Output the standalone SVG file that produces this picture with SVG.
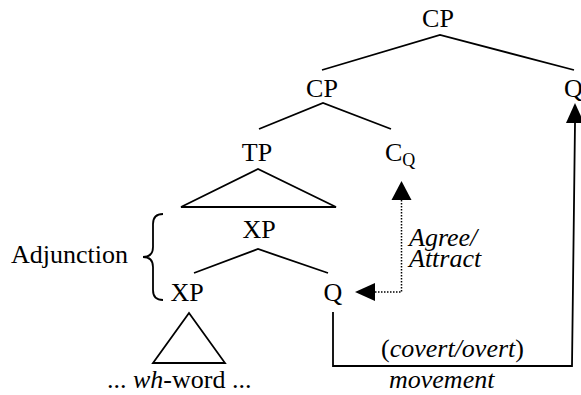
<svg xmlns="http://www.w3.org/2000/svg" width="581" height="395" viewBox="0 0 581 395" font-family="'Liberation Serif', 'DejaVu Serif', serif">
<style>
  text { font-family: 'Liberation Serif', 'DejaVu Serif', serif; font-size: 26px; fill: #000; }
  .n { text-anchor: middle; }
  .it { font-style: italic; }
  .sub { font-size: 18px; }
  .edge { stroke: #000; stroke-width: 1.8; fill: none; stroke-linecap: butt; }
  .dot { stroke: #000; stroke-width: 1.5; fill: none; stroke-dasharray: 1.5 1.5; }
  .head { fill: #000; stroke: none; }
</style>
<rect width="581" height="395" fill="#fff"/>
<g id="connectors">
  <path class="edge" d="M322,70 L440,35 L574,70"/>
  <path class="edge" d="M259,129 L323,103 L391,129"/>
  <path class="edge" d="M194,273 L258,249 L328,273"/>
  <path class="dot" d="M375,292 L401.5,292 L401.5,200"/>
  <polygon class="head" points="401.5,181 391.5,200 411.5,200"/>
  <polygon class="head" points="355,292 375,283 375,301"/>
  <path class="edge" d="M333,312 L333,366 L572,366 L575,123"/>
  <polygon class="head" points="575,103 566,123 584,123"/>
</g>
<g id="cp-top"><text class="n" x="438" y="27">CP</text></g>
<g id="cp"><text class="n" x="322" y="97">CP</text></g>
<g id="q-top"><text x="564" y="97">Q</text></g>
<g id="tp">
  <text class="n" x="257" y="161">TP</text>
  <path class="edge" d="M181,207 L258,169 L336,207 Z"/>
</g>
<g id="cq"><text x="385" y="161">C<tspan class="sub" dy="5">Q</tspan></text></g>
<g id="xp-upper"><text class="n" x="259" y="238">XP</text></g>
<g id="xp-lower">
  <text class="n" x="187" y="301">XP</text>
  <path class="edge" d="M153,363 L189,313 L225,363 Z"/>
  <text x="107" y="388">... <tspan class="it">wh</tspan>-word ...</text>
</g>
<g id="q-lower"><text class="n" x="333" y="301">Q</text></g>
<g id="adjunction">
  <text x="11" y="263">Adjunction</text>
  <path class="edge" stroke-width="1.5" d="M163,214 Q153,214 153,224 L153,247 Q153,257 143,257 Q153,257 153,267 L153,290 Q153,300 163,300"/>
</g>
<g id="agree-label">
  <text class="it" x="409" y="246">Agree/</text>
  <text class="it" x="409" y="267">Attract</text>
</g>
<g id="movement-label">
  <text x="381" y="357">(<tspan class="it">covert/overt</tspan>)</text>
  <text class="it" x="389" y="388">movement</text>
</g>
</svg>
